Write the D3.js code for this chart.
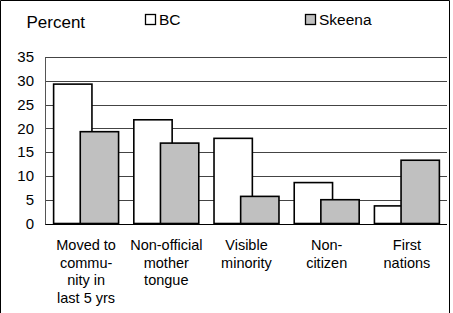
<!DOCTYPE html>
<html><head><meta charset="utf-8">
<script src="https://cdn.jsdelivr.net/npm/d3@7"></script>
<style>body{margin:0;background:#fff}svg{display:block}text{font-family:"Liberation Sans",Arial,sans-serif;fill:#000}</style>
</head><body><svg id="c" width="453" height="313"></svg>
<script>
const categories = [["Moved to","commu-","nity in","last 5 yrs"],["Non-official","mother","tongue"],["Visible","minority"],["Non-","citizen"],["First","nations"]];
const seriesNames = ["BC","Skeena"];
const bcValues = [29.3, 21.8, 17.9, 8.6, 3.7];
const skeenaValues = [19.3, 16.9, 5.7, 5.0, 13.3];
const yTicks = [0,5,10,15,20,25,30,35];
const colors = ["#ffffff","#c0c0c0"];

(function(){
const svg = d3.select("#c");
const pLeft = 45, pRight = 447, pTop = 57, pBottom = 223.5;
const x = d3.scaleBand().domain(d3.range(categories.length)).range([pLeft+1, pRight]).paddingInner(0.19).paddingOuter(0.095);
const y = d3.scaleLinear().domain([0,35]).range([pBottom, pTop]);

// frame
svg.append("path").attr("d","M0.5,313 V0.5 H449.5 V313").attr("fill","none").attr("stroke","#000").attr("stroke-width",1);

// gridlines
svg.append("g").selectAll("line").data(yTicks).join("line")
  .attr("x1", pLeft).attr("x2", pRight)
  .attr("y1", d => Math.round(y(d))+0.5).attr("y2", d => Math.round(y(d))+0.5)
  .attr("stroke", d => d===0 ? "#000" : "#444").attr("stroke-width",1);
// y axis line
svg.append("line").attr("x1",pLeft+0.5).attr("x2",pLeft+0.5).attr("y1",Math.round(y(35))+0.5).attr("y2",Math.round(y(0))+0.5).attr("stroke","#555");

// y tick labels
const yAxis = d3.axisLeft(y).tickValues(yTicks).tickSize(0).tickPadding(11);
const ga = svg.append("g").attr("transform",`translate(${pLeft},0)`).call(yAxis);
ga.select(".domain").remove();
ga.selectAll("text").attr("font-size",15).attr("font-family","Liberation Sans, Arial, sans-serif").attr("fill","#000");

// bars
const bw = x.bandwidth()*0.59;
const data = [bcValues, skeenaValues];
data.forEach((vals, s) => {
  svg.append("g").selectAll("rect").data(vals).join("rect")
    .attr("x", (d,i) => x(i) + (s===0 ? 0 : x.bandwidth()-bw))
    .attr("y", d => y(d))
    .attr("width", bw)
    .attr("height", d => y(0)-y(d))
    .attr("fill", colors[s]).attr("stroke","#000").attr("stroke-width",1.6);
});

// category labels
categories.forEach((lines,i) => {
  const cx = x(i)+x.bandwidth()/2;
  const t = svg.append("text").attr("text-anchor","middle").attr("font-size",14.5)
    .attr("x", cx).attr("y", 250);
  lines.forEach((l,j) => t.append("tspan").attr("x", cx).attr("dy", j===0?0:17.6).text(l));
});

// title
svg.append("text").attr("x",26.5).attr("y",28.3).attr("font-size",17).text("Percent");

// legend
const legX = [145, 305];
seriesNames.forEach((n,s) => {
  svg.append("rect").attr("x",legX[s]+0.5).attr("y",14.5).attr("width",10).attr("height",10)
    .attr("fill",colors[s]).attr("stroke","#000").attr("stroke-width",1.3);
  svg.append("text").attr("x",legX[s]+14).attr("y",25).attr("font-size",15.5).text(n);
});
})();
</script></body></html>
